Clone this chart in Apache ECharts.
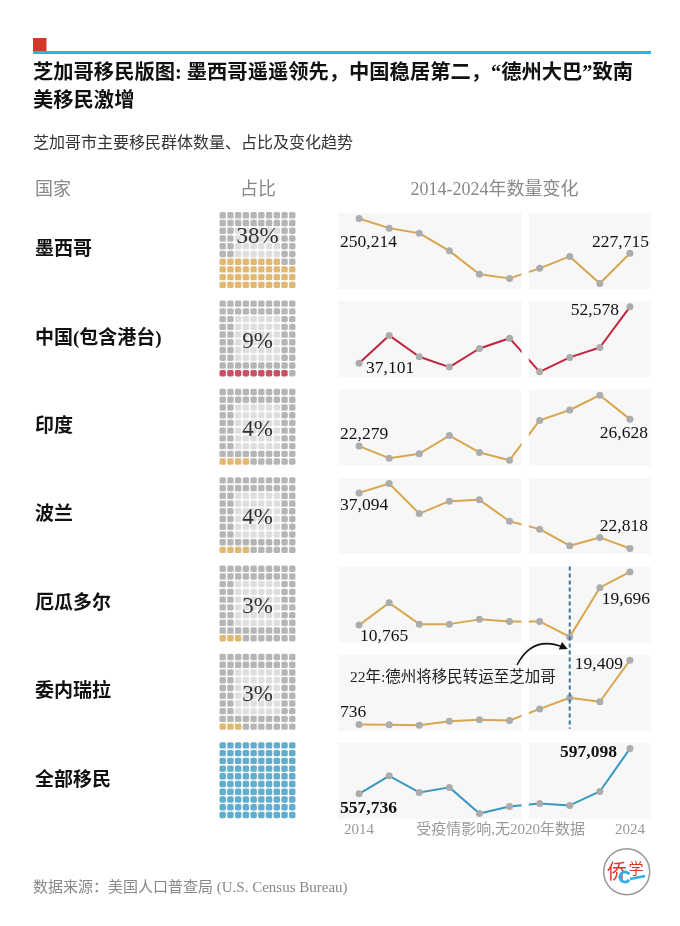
<!DOCTYPE html>
<html><head><meta charset="utf-8">
<script src="https://cdn.jsdelivr.net/npm/echarts@6/dist/echarts.min.js"></script>
<style>html,body{margin:0;padding:0;background:#fff}#c{width:680px;height:926px}</style>
</head><body><div id="c"></div>
<script>
// ---------------- data ----------------
const years = ['2014','2015','2016','2017','2018','2019','2021','2022','2023','2024'];
const groups = ['墨西哥','中国(包含港台)','印度','波兰','厄瓜多尔','委内瑞拉','全部移民'];
const shares = [38, 9, 4, 4, 3, 3, 100];
const mexico    = [250214, 244000, 240700, 229300, 214200, 211500, 218000, 225700, 208200, 227715];
const china     = [37101, 44740, 38880, 36050, 41150, 43980, 34750, 38710, 41430, 52578];
const india     = [22279, 20320, 21040, 23970, 21250, 20000, 26420, 28100, 30490, 26628];
const poland    = [37094, 39490, 31780, 34970, 35310, 29810, 27790, 23540, 25670, 22818];
const ecuador   = [10765, 14520, 10930, 10930, 11730, 11390, 11390, 8790, 17050, 19696];
const venezuela = [736, 650, 530, 1710, 2130, 1920, 5270, 8530, 7350, 19409];
const total     = [557736, 573370, 558890, 563330, 540500, 546720, 549380, 547610, 559780, 597098];
const seriesValues = [mexico, china, india, poland, ecuador, venezuela, total];
const axisTickLabels = ['2014', '受疫情影响,无2020年数据', '2024'];
const titleLines = ['芝加哥移民版图: 墨西哥遥遥领先，中国稳居第二，“德州大巴”致南', '美移民激增'];
const subtitle = '芝加哥市主要移民群体数量、占比及变化趋势';
const headers = ['国家', '占比', '2014-2024年数量变化'];
const noteText = '22年:德州将移民转运至芝加哥';
const noteYearIndex = 7; // 2022
const sourceText = '数据来源：美国人口普查局 (U.S. Census Bureau)';

// ---------------- styles ----------------
const GOLD = '#d8a64e', RED = '#c1233f', BLUE = '#3a98c0';
const rowColors = [GOLD, RED, GOLD, GOLD, GOLD, GOLD, BLUE];
const SERIF = "'Liberation Serif','Noto Sans CJK SC',serif";
const CJK = "'Noto Sans CJK SC','Liberation Serif',sans-serif";
const labelCfg = [
  {first:['left',-19,24],  last:['right',19,-11]},
  {first:['left',7,5],     last:['right',-11,4]},
  {first:['left',-19,-12], last:['right',18,14]},
  {first:['left',-19,12],  last:['right',18,-22]},
  {first:['left',1,11],    last:['right',20,27]},
  {first:['left',-19,-12], last:['right',-7,4]},
  {first:['left',-19,15],  last:['right',-13,4]}
];
const PITCH = 88.35;
const PANEL_TOP = 213, PANEL_H = 76, PANEL_LEFT = 338, PANEL_W = 313;
const CELL = 7.73, WAFFLE_LEFT = 222.7 - CELL/2, WAFFLE_TOP = 215.3 - CELL/2;
const PAD = 0.085;

const fmt = v => Number(v).toLocaleString('en-US');

const grids = [], xAxes = [], yAxes = [], series = [], yRanges = [];
const n = groups.length;

// line panels
for (let r = 0; r < n; r++) {
  const vals = seriesValues[r];
  const mn = Math.min(...vals), mx = Math.max(...vals), span = mx - mn;
  const ymin = mn - span * PAD, ymax = mx + span * PAD;
  yRanges.push([ymin, ymax]);
  grids.push({left: PANEL_LEFT, width: PANEL_W, top: PANEL_TOP + PITCH * r, height: PANEL_H,
    show: true, backgroundColor: '#f7f7f7', borderWidth: 0});
  xAxes.push({type: 'value', gridIndex: r, min: -0.7, max: 9.7, show: false});
  yAxes.push({type: 'value', gridIndex: r, min: ymin, max: ymax, show: false});
  const cfg = labelCfg[r];
  const data = vals.map((v, i) => {
    const item = {value: [i, v], name: years[i]};
    const c = i === 0 ? cfg.first : (i === vals.length - 1 ? cfg.last : null);
    if (c) {
      item.label = {show: true, position: 'inside', align: c[0], verticalAlign: 'middle',
        offset: [c[1], c[2]], formatter: p => fmt(p.value[1]),
        fontFamily: SERIF, fontSize: 17.5, color: '#111',
        fontWeight: r === n - 1 ? 'bold' : 'normal'};
    }
    return item;
  });
  series.push({type: 'line', xAxisIndex: r, yAxisIndex: r, data, z: 3,
    symbol: 'circle', symbolSize: 7, showSymbol: true,
    itemStyle: {color: '#acacac'}, lineStyle: {color: rowColors[r], width: 2},
    label: {show: false}, emphasis: {disabled: true}, animation: false});
  // white gap for the missing 2020
  series.push({type: 'custom', xAxisIndex: r, yAxisIndex: r, z: 10, silent: true,
    data: [[5.52, (ymin + ymax) / 2]],
    renderItem: (params, api) => {
      const p1 = api.coord([5.4, ymax]), p2 = api.coord([5.64, ymin]);
      return {type: 'rect', shape: {x: p1[0], y: p1[1] - 1, width: p2[0] - p1[0], height: p2[1] - p1[1] + 2},
        style: {fill: '#fff'}};
    }, animation: false});
}

// waffles
for (let r = 0; r < n; r++) {
  const gi = n + r;
  grids.push({left: WAFFLE_LEFT, width: CELL * 10, top: WAFFLE_TOP + PITCH * r, height: CELL * 10});
  xAxes.push({type: 'value', gridIndex: gi, min: -0.5, max: 9.5, show: false});
  yAxes.push({type: 'value', gridIndex: gi, min: -0.5, max: 9.5, inverse: true, show: false});
  const cells = [];
  for (let row = 0; row < 10; row++) {
    for (let col = 0; col < 10; col++) {
      const k = (9 - row) * 10 + col;
      let color;
      if (k < shares[r]) color = rowColors[r];
      else if (row >= 2 && row <= 7 && col >= 2 && col <= 7) color = '#d6d6d6';
      else color = '#a2a2a2';
      cells.push({value: [col, row], itemStyle: {color}});
    }
  }
  series.push({type: 'scatter', xAxisIndex: gi, yAxisIndex: gi, data: cells,
    symbol: 'roundRect', symbolSize: 6.4, silent: true, animation: false, z: 2});
  if (shares[r] < 100) {
    const fullRows = 10 - Math.ceil(shares[r] / 10);
    const ypos = shares[r] > 30 ? fullRows / 2 - 0.2 : 4.9;
    series.push({type: 'scatter', xAxisIndex: gi, yAxisIndex: gi, z: 5, silent: true, animation: false,
      data: [[4.5, ypos]], symbolSize: 1, itemStyle: {color: 'rgba(0,0,0,0)'},
      label: {show: true, position: 'inside', formatter: shares[r] + '%',
        fontFamily: SERIF, fontSize: 23, color: '#000'}});
  }
}

const graphic = [
  {type: 'rect', shape: {x: 33, y: 38, width: 13.5, height: 14}, style: {fill: '#d2392b'}},
  {type: 'rect', shape: {x: 33, y: 51, width: 618, height: 3}, style: {fill: '#27b4e8'}},
  {type: 'text', x: 33, y: 73.5, style: {text: titleLines[0], font: "bold 20.3px " + SERIF, fill: '#111', verticalAlign: 'middle'}},
  {type: 'text', x: 33, y: 101.5, style: {text: titleLines[1], font: "bold 20.3px " + SERIF, fill: '#111', verticalAlign: 'middle'}},
  {type: 'text', x: 33, y: 144, style: {text: subtitle, font: "16px " + SERIF, fill: '#333', verticalAlign: 'middle'}},
  {type: 'text', x: 35, y: 190.5, style: {text: headers[0], font: "18px " + SERIF, fill: '#888', verticalAlign: 'middle'}},
  {type: 'text', x: 258, y: 190.5, style: {text: headers[1], font: "18px " + SERIF, fill: '#888', verticalAlign: 'middle', align: 'center'}},
  {type: 'text', x: 494.5, y: 190.5, style: {text: headers[2], font: "18px " + SERIF, fill: '#888', verticalAlign: 'middle', align: 'center'}},
  {type: 'text', x: 33, y: 888, style: {text: sourceText, font: "15px " + SERIF, fill: '#888', verticalAlign: 'middle'}}
];
groups.forEach((g, r) => {
  graphic.push({type: 'text', x: 35, y: 250.5 + PITCH * r,
    style: {text: g, font: "bold 19px " + SERIF, fill: '#111', verticalAlign: 'middle'}});
});

const chart = echarts.init(document.getElementById('c'), null, {renderer: 'canvas'});
chart.setOption({animation: false, grid: grids, xAxis: xAxes, yAxis: yAxes, series, graphic});

// elements that depend on axis positions
const last = n - 1;
const px = (ai, x) => chart.convertToPixel({xAxisIndex: ai}, x);
const py = (ai, y) => chart.convertToPixel({yAxisIndex: ai}, y);
const xL = px(last, 0), xR = px(last, 9);
const yLab = py(last, yRanges[last][0]) + 11;
const extra = [
  {type: 'text', x: xL, y: yLab, style: {text: axisTickLabels[0], font: "15px " + SERIF, fill: '#999', align: 'center', verticalAlign: 'middle'}},
  {type: 'text', x: (px(last, 1.8) + px(last, 7.6)) / 2, y: yLab, style: {text: axisTickLabels[1], font: "15px " + SERIF, fill: '#999', align: 'center', verticalAlign: 'middle'}},
  {type: 'text', x: xR, y: yLab, style: {text: axisTickLabels[2], font: "15px " + SERIF, fill: '#999', align: 'center', verticalAlign: 'middle'}}
];
// dashed 2022 line across Ecuador & Venezuela panels
const ec = 4, ve = 5;
const dx = px(ec, noteYearIndex);
extra.push({type: 'line', z: 20, shape: {x1: dx, y1: py(ec, yRanges[ec][1]), x2: dx, y2: py(ve, yRanges[ve][0]) - 2},
  style: {stroke: '#3f7392', lineWidth: 2, lineDash: [4, 3]}});
// annotation
const tipX = dx - 2, tipY = py(ec, ecuador[noteYearIndex]) + 12;
const sx = 517, sy = 665, cx = 533, cy = 634;
extra.push({type: 'bezierCurve', z: 20, shape: {x1: sx, y1: sy, x2: tipX - 3, y2: tipY - 1, cpx1: cx, cpy1: cy},
  style: {stroke: '#111', lineWidth: 1.6, fill: null}});
const ang = Math.atan2(tipY - cy, tipX - cx);
const hl = 8, hw = 4;
const bx = tipX - hl * Math.cos(ang), by = tipY - hl * Math.sin(ang);
extra.push({type: 'polygon', z: 20, shape: {points: [[tipX, tipY],
  [bx + hw * Math.sin(ang), by - hw * Math.cos(ang)], [bx - hw * Math.sin(ang), by + hw * Math.cos(ang)]]},
  style: {fill: '#111'}});
extra.push({type: 'text', z: 20, x: 350, y: 678, style: {text: noteText, font: "15.5px " + SERIF, fill: '#222', verticalAlign: 'middle'}});
// logo
extra.push({type: 'circle', shape: {cx: 626.7, cy: 871.7, r: 23}, style: {fill: '#fff', stroke: '#999', lineWidth: 1.5}});
extra.push({type: 'text', x: 617, y: 871, style: {text: '侨', font: "20px " + CJK, fill: '#d8362b', align: 'center', verticalAlign: 'middle'}});
extra.push({type: 'text', x: 636, y: 868, style: {text: '学', font: "15px " + CJK, fill: '#d8362b', align: 'center', verticalAlign: 'middle'}});
extra.push({type: 'arc', shape: {cx: 625, cy: 877, r: 5, startAngle: 0.6, endAngle: 5.7}, style: {stroke: '#2bb3e6', lineWidth: 3, fill: null}});
extra.push({type: 'line', shape: {x1: 630, y1: 879, x2: 645, y2: 876}, style: {stroke: '#2bb3e6', lineWidth: 2.5}});

chart.setOption({graphic: graphic.concat(extra)});
</script></body></html>
